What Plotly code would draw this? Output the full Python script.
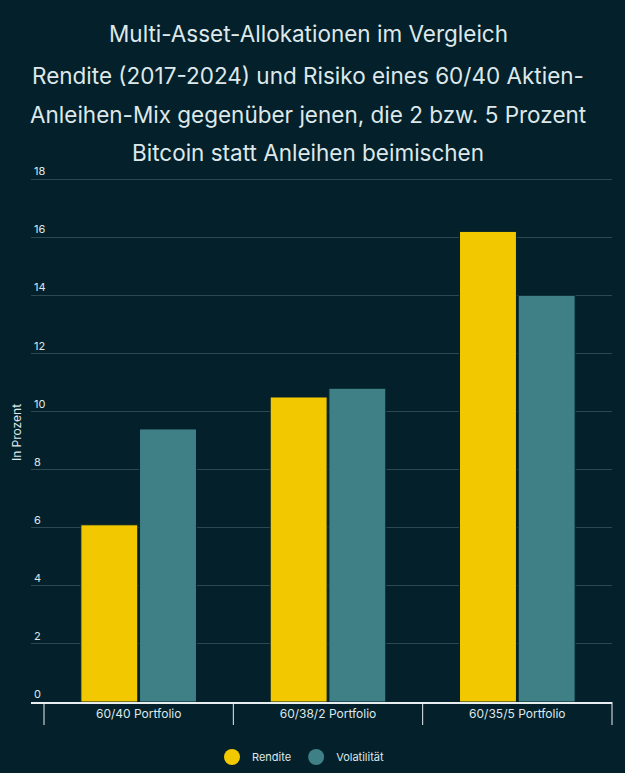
import plotly.graph_objects as go

categories = ["60/40 Portfolio", "60/38/2 Portfolio", "60/35/5 Portfolio"]
rendite = [6.1, 10.5, 16.2]
volatilitaet = [9.4, 10.8, 14.0]
series_names = ["Rendite", "Volatilität"]
y_ticks = [0, 2, 4, 6, 8, 10, 12, 14, 16, 18]
title_lines = [
    "Multi-Asset-Allokationen im Vergleich",
    "Rendite (2017-2024) und Risiko eines 60/40 Aktien-",
    "Anleihen-Mix gegenüber jenen, die 2 bzw. 5 Prozent",
    "Bitcoin statt Anleihen beimischen",
]
y_title = "In Prozent"

BG = "#04202a"
YELLOW = "#f2c900"
TEAL = "#3e8086"
TEXT = "#dde8ea"
GRID = "#2c4952"
AXIS = "#e8eef0"
FONT = "Inter"

W, H = 625, 773
ML, MR, MT, MB = 31, 13, 163, 71
plot_h = H - MT - MB
plot_w = W - ML - MR
PX_PER_UNIT = 29.05
Y_MAX = plot_h / PX_PER_UNIT

fig = go.Figure()
fig.add_trace(go.Bar(x=categories, y=rendite, name=series_names[0],
                     marker=dict(color=YELLOW, line=dict(color=BG, width=1)),
                     showlegend=False))
fig.add_trace(go.Bar(x=categories, y=volatilitaet, name=series_names[1],
                     marker=dict(color=TEAL, line=dict(color=BG, width=1)),
                     showlegend=False))
for nm, col in zip(series_names, [YELLOW, TEAL]):
    fig.add_trace(go.Scatter(x=[None], y=[None], mode="markers", name=nm,
                             marker=dict(color=col, size=16, symbol="circle")))

def py(pix):
    return (H - MB - pix) / plot_h

def px(pix):
    return (pix - ML) / plot_w

title_y_px = [34, 75, 114, 153]
annotations = []
for line, ypx in zip(title_lines, title_y_px):
    annotations.append(dict(text=line, xref="paper", yref="paper",
                            x=px(308), y=py(ypx),
                            xanchor="center", yanchor="middle", showarrow=False,
                            font=dict(family=FONT, size=22.5, color=TEXT)))

n = len(categories)
cat_px = (plot_w - 13) / n
left_ext = 13 / cat_px
x_min, x_max = -0.5 - left_ext, n - 0.5

shapes = []
for k in range(n + 1):
    b = k - 0.5
    xp = (b - x_min) / (x_max - x_min)
    shapes.append(dict(type="line", xref="paper", yref="paper",
                       x0=xp, x1=xp, y0=0, y1=-23 / plot_h,
                       line=dict(color=AXIS, width=1)))

fig.update_layout(
    width=W, height=H,
    margin=dict(l=ML, r=MR, t=MT, b=MB, autoexpand=False),
    paper_bgcolor=BG, plot_bgcolor=BG,
    barmode="group", bargap=0.38, bargroupgap=0.03,
    font=dict(family=FONT, color=TEXT, size=11),
    annotations=annotations,
    shapes=shapes,
    legend=dict(orientation="h", x=px(212), xanchor="left",
                y=py(757), yanchor="middle",
                font=dict(family=FONT, size=11, color=TEXT),
                itemsizing="trace", bgcolor="rgba(0,0,0,0)"),
    xaxis=dict(type="category", range=[x_min, x_max], automargin=False,
               showline=True, linecolor=AXIS, linewidth=1.5,
               ticks="", ticklabelstandoff=0,
               tickfont=dict(family=FONT, size=12, color=TEXT),
               showgrid=False, zeroline=False, fixedrange=True),
    yaxis=dict(range=[0, Y_MAX], tickvals=y_ticks, ticktext=[str(v) for v in y_ticks],
               ticklabelposition="inside top", ticks="", automargin=False,
               tickfont=dict(family=FONT, size=11, color=TEXT),
               showgrid=True, gridcolor=GRID, gridwidth=1,
               zeroline=False, showline=False,
               title=dict(text=y_title, standoff=9,
                          font=dict(family=FONT, size=12, color=TEXT))),
)

fig.write_html("out.html", config={"displayModeBar": False},
               post_script="document.body.style.margin='0';")
